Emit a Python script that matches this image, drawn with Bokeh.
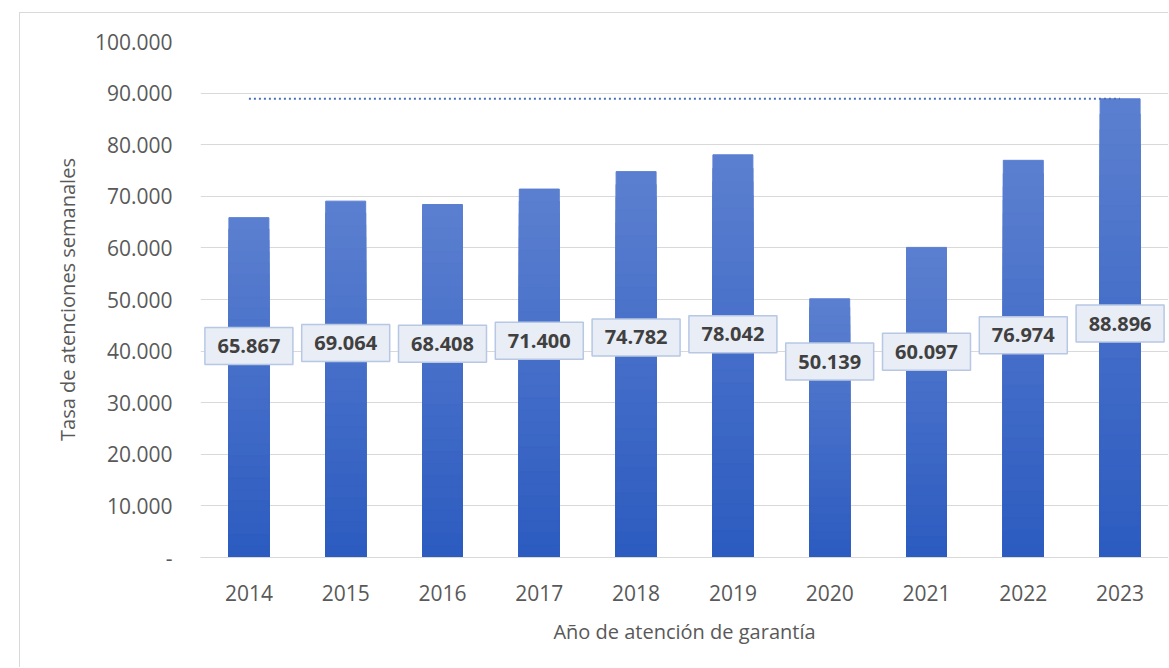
from bokeh.plotting import figure
from bokeh.models import FactorRange, Range1d, FixedTicker, ColumnDataSource
from bokeh.core.properties import value
from bokeh.embed import file_html
from bokeh.resources import INLINE

# ---------------- data ----------------
years = ["2014", "2015", "2016", "2017", "2018", "2019", "2020", "2021", "2022", "2023"]
atenciones = [65867, 69064, 68408, 71400, 74782, 78042, 50139, 60097, 76974, 88896]
y_ticks = [0, 10000, 20000, 30000, 40000, 50000, 60000, 70000, 80000, 90000, 100000]
y_tick_labels = ["-", "10.000", "20.000", "30.000", "40.000", "50.000",
                 "60.000", "70.000", "80.000", "90.000", "100.000"]
x_title = "Año de atención de garantía"
y_title = "Tasa de atenciones semanales"

# ---------------- style ----------------
FONT = "Open Sans"
TXT = "#595959"
GRID = "#d9d9d9"
TOP_COL = (0x5c, 0x80, 0xd0)
BOT_COL = (0x2c, 0x5b, 0xc0)
N_SEG = 30

p = figure(x_range=FactorRange(factors=years), y_range=Range1d(0, 100000),
           frame_width=968, frame_height=516,
           min_border_left=180, min_border_right=0, min_border_top=28, min_border_bottom=110,
           output_backend="svg", toolbar_location=None)
p.margin = (12, 0, 0, 19)
p.styles = {"border-left": f"1px solid {GRID}", "border-top": f"1px solid {GRID}"}
p.outline_line_color = None
p.background_fill_color = "white"
p.border_fill_color = "white"

# gradient bars: stacked layers drawn from tallest (light) to shortest (dark)
xs, tops, cols = [], [], []
for k in range(N_SEG):
    frac = (N_SEG - k) / N_SEG
    t = (N_SEG - k - 0.5) / N_SEG  # position of visible band (0 bottom, 1 top)
    c = tuple(int(round(BOT_COL[i] + (TOP_COL[i] - BOT_COL[i]) * t)) for i in range(3))
    col = "#%02x%02x%02x" % c
    for yr, v in zip(years, atenciones):
        xs.append(yr)
        tops.append(v * frac)
        cols.append(col)
bars = ColumnDataSource(dict(x=xs, top=tops, color=cols))
p.vbar(x="x", top="top", bottom=0, width=0.413, color="color", source=bars)

# dotted reference line at the maximum value
vmax = max(atenciones)
p.line(x=[years[0], years[-1]], y=[vmax, vmax], line_color="#4a6fb8",
       line_width=2, line_dash="2 3")

# data labels
lab = ColumnDataSource(dict(
    x=years,
    y=[28450 + 0.19 * v for v in atenciones],
    text=[f"{v:,}".replace(",", ".") for v in atenciones],
))
p.rect(x="x", y="y", width=88, height=37, width_units="screen", height_units="screen",
       fill_color="#e9edf5", line_color="#b7c7e4", line_width=1.5, source=lab)
p.text(x="x", y="y", text="text", source=lab, text_align="center", text_baseline="middle",
       text_font=value(FONT), text_font_style="bold", text_font_size="20px",
       text_color="#404040")

# axes
p.xgrid.grid_line_color = None
p.ygrid.grid_line_color = GRID
p.ygrid.grid_line_width = 1
p.ygrid.ticker = FixedTicker(ticks=y_ticks)

p.yaxis.ticker = FixedTicker(ticks=y_ticks)
p.yaxis.major_label_overrides = {t: l for t, l in zip(y_ticks, y_tick_labels)}
p.yaxis.axis_line_color = None
p.yaxis.major_tick_line_color = None
p.yaxis.minor_tick_line_color = None
p.yaxis.major_label_standoff = 22
p.yaxis.major_label_text_font = FONT
p.yaxis.major_label_text_font_size = "21px"
p.yaxis.major_label_text_color = TXT
p.yaxis.axis_label = y_title
p.yaxis.axis_label_text_font = FONT
p.yaxis.axis_label_text_font_size = "20px"
p.yaxis.axis_label_text_font_style = "normal"
p.yaxis.axis_label_text_color = TXT
p.yaxis.axis_label_standoff = 11

p.xaxis.axis_line_color = GRID
p.xaxis.major_tick_line_color = None
p.xaxis.minor_tick_line_color = None
p.xaxis.major_label_standoff = 21
p.xaxis.major_label_text_font = FONT
p.xaxis.major_label_text_font_size = "21px"
p.xaxis.major_label_text_color = TXT
p.xaxis.axis_label = x_title
p.xaxis.axis_label_text_font = FONT
p.xaxis.axis_label_text_font_size = "20px"
p.xaxis.axis_label_text_font_style = "normal"
p.xaxis.axis_label_text_color = TXT
p.xaxis.axis_label_standoff = 14

open("out.html", "w").write(file_html(p, INLINE))
